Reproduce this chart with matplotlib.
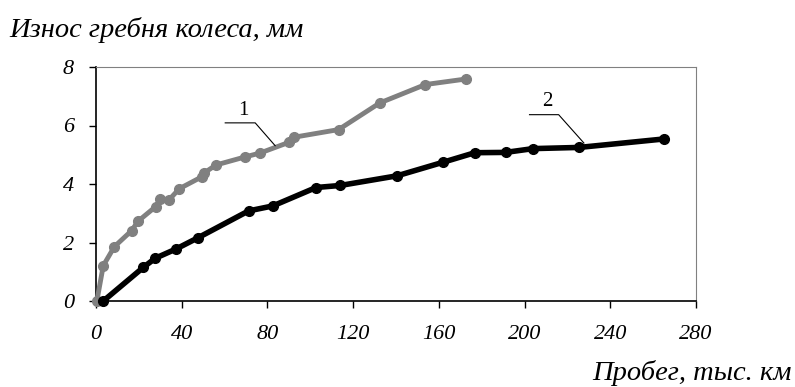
import matplotlib.pyplot as plt

# кривая 1 (серая)
x1 = [0.4, 3.4, 8.6, 16.7, 19.5, 27.9, 29.9, 34.1, 38.9, 49.5, 50.5, 56.0, 69.3, 76.6, 89.9, 92.5, 113.2, 132.4, 153.7, 172.7]
y1 = [0.0, 1.21, 1.86, 2.41, 2.72, 3.23, 3.48, 3.46, 3.84, 4.25, 4.38, 4.65, 4.92, 5.06, 5.42, 5.60, 5.86, 6.77, 7.40, 7.59]

# кривая 2 (чёрная)
x2 = [3.4, 22.1, 27.6, 37.4, 47.8, 71.2, 82.5, 102.7, 114.0, 140.5, 161.8, 176.8, 191.1, 204.0, 225.4, 265.1]
y2 = [0.0, 1.15, 1.46, 1.78, 2.17, 3.08, 3.25, 3.88, 3.95, 4.28, 4.74, 5.07, 5.08, 5.21, 5.25, 5.54]

xticks = [0, 40, 80, 120, 160, 200, 240, 280]
yticks = [0, 2, 4, 6, 8]

plt.rcParams['font.family'] = ['Liberation Serif', 'DejaVu Serif']

fig = plt.figure(figsize=(7.95, 3.87), dpi=100)
ax = fig.add_axes([96/795, 1-301/387, 600/795, 234/387])

ax.plot(x1, y1, color='#808080', lw=3.5, marker='o', ms=7, clip_on=False, zorder=3)
ax.plot(x2, y2, color='black', lw=4, marker='o', ms=7, clip_on=False, zorder=4)

ax.set_xlim(0, 280)
ax.set_ylim(0, 8)
ax.set_xticks(xticks)
ax.set_yticks(yticks)
ax.tick_params(direction='out', length=5, width=1, labelsize=16)
ax.tick_params(axis='y', pad=11)
ax.tick_params(axis='x', pad=12)
for lab in ax.get_xticklabels() + ax.get_yticklabels():
    lab.set_fontstyle('italic')

for s in ['top', 'right']:
    ax.spines[s].set_color('#808080')
for s in ['left', 'bottom']:
    ax.spines[s].set_color('black')
    ax.spines[s].set_linewidth(1.2)

# выноски
ax.plot([60.3, 74.3, 83.6], [6.09, 6.09, 5.31], color='black', lw=0.8, zorder=5)
ax.text(68.7, 6.2, '1', fontsize=15, ha='center', va='bottom')
ax.plot([202.3, 215.9, 227.7], [6.37, 6.37, 5.40], color='black', lw=0.8, zorder=5)
ax.text(210.6, 6.48, '2', fontsize=15, ha='center', va='bottom')

fig.text(9/795, 1-30/387, 'Износ гребня колеса, мм', fontsize=20.5, fontstyle='italic',
         ha='left', va='center')
fig.text(792/795, 1-373/387, 'Пробег, тыс. км', fontsize=20.5, fontstyle='italic',
         ha='right', va='center')

fig.savefig('out.png', dpi=100)
